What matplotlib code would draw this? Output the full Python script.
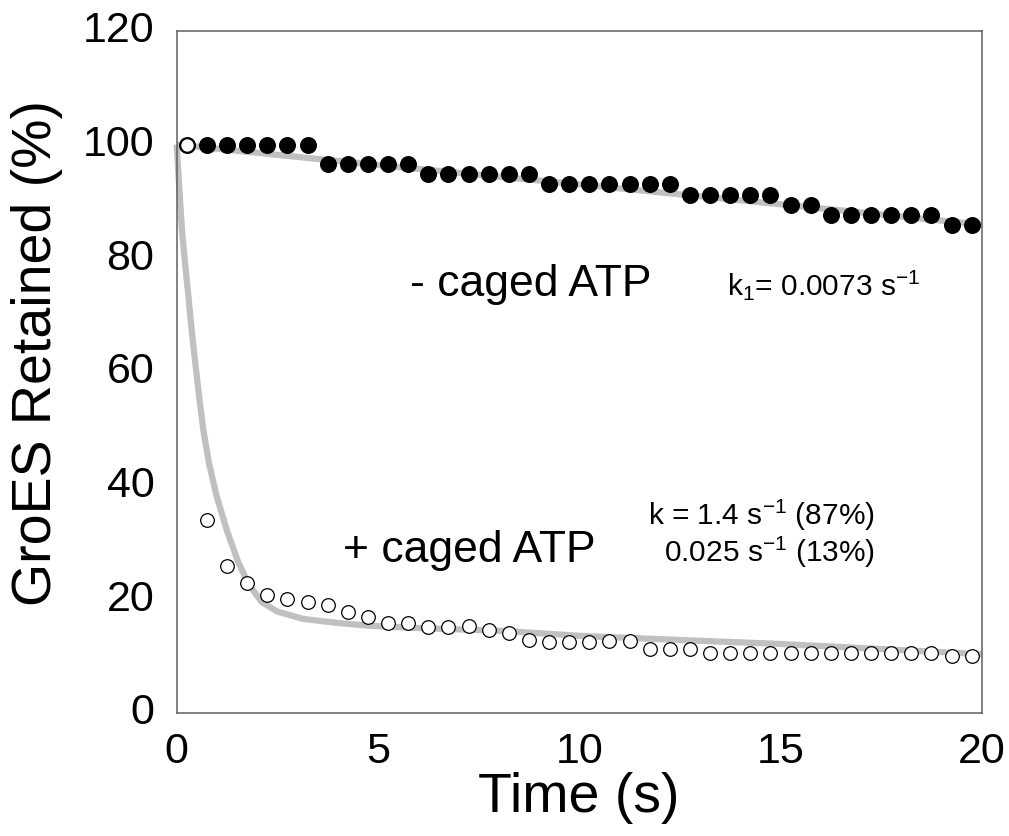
import matplotlib
matplotlib.use("Agg")
import matplotlib.pyplot as plt
from matplotlib.transforms import ScaledTranslation

# sampling times (s)
time_pts = [0.25, 0.75, 1.25, 1.75, 2.25, 2.75, 3.25, 3.75, 4.25, 4.75,
            5.25, 5.75, 6.25, 6.75, 7.25, 7.75, 8.25, 8.75, 9.25, 9.75,
            10.25, 10.75, 11.25, 11.75, 12.25, 12.75, 13.25, 13.75, 14.25, 14.75,
            15.25, 15.75, 16.25, 16.75, 17.25, 17.75, 18.25, 18.75, 19.25, 19.75]

# - caged ATP (filled circles)
minus_atp = [100, 100, 100, 100, 100, 100, 100, 96.6, 96.6, 96.6,
             96.6, 96.6, 94.8, 94.8, 94.8, 94.8, 94.8, 94.8, 93.0, 93.0,
             93.0, 93.0, 93.0, 93.0, 93.0, 91.1, 91.1, 91.1, 91.1, 91.1,
             89.3, 89.3, 87.6, 87.6, 87.6, 87.6, 87.6, 87.6, 85.9, 85.9]

# + caged ATP (open circles)
plus_atp = [100, 34.0, 25.8, 22.9, 20.7, 20.1, 19.4, 19.0, 17.8, 16.8,
            15.8, 15.8, 15.1, 15.1, 15.3, 14.6, 14.0, 12.8, 12.4, 12.4,
            12.5, 12.7, 12.7, 11.3, 11.3, 11.3, 10.5, 10.5, 10.5, 10.5,
            10.5, 10.5, 10.5, 10.5, 10.5, 10.5, 10.5, 10.5, 10.0, 10.0]

# fitted curves
fit_minus_t = [0, 5, 10, 15, 20]
fit_minus_y = [100, 96.4, 93.0, 89.5, 85.9]
fit_plus_t = [0, 0.05, 0.13, 0.21, 0.29, 0.37, 0.46, 0.56, 0.66, 0.8, 0.99,
              1.25, 1.53, 1.8, 2.11, 2.5, 3.15, 4, 4.8, 6, 8.1, 10.1, 12.5,
              15, 17.5, 20]
fit_plus_y = [100, 94, 85.1, 79, 73.4, 67.5, 61.7, 55.5, 49.9, 44, 38.2,
              32, 26.5, 22.5, 19.5, 17.8, 16.5, 15.8, 15.3, 14.9, 14.4, 13.5,
              12.8, 12.1, 11.2, 10.3]

x_ticks = [0, 5, 10, 15, 20]
y_ticks = [0, 20, 40, 60, 80, 100, 120]

plt.rcParams['font.family'] = ['Liberation Sans', 'DejaVu Sans']
plt.rcParams['mathtext.default'] = 'regular'


def main():
    fig = plt.figure(figsize=(10.09, 8.37), dpi=100)
    ax = fig.add_axes([0.1751, 0.1473, 0.7979, 0.8145])

    fit_color = '#c0c0c0'
    ax.plot(fit_minus_t, fit_minus_y, color=fit_color, lw=4.5,
            solid_capstyle='butt', solid_joinstyle='round', zorder=1,
            clip_on=False)
    ax.plot(fit_plus_t, fit_plus_y, color=fit_color, lw=4.5,
            solid_capstyle='butt', solid_joinstyle='round', zorder=1,
            clip_on=False)

    ax.plot(time_pts, minus_atp, 'o', color='black', ms=11.2, zorder=3,
            clip_on=False)
    ax.plot(time_pts, plus_atp, 'o', mfc='white', mec='black', mew=0.9,
            ms=9.8, zorder=4, clip_on=False)

    ax.set_xlim(0, 20)
    ax.set_ylim(0, 120)
    ax.set_xticks(x_ticks)
    ax.set_yticks(y_ticks)
    ax.tick_params(length=0, labelsize=31)
    ax.tick_params(axis='x', pad=13)
    ax.tick_params(axis='y', pad=16)
    # y tick labels sit a little above their values in the original
    shift = ScaledTranslation(0, 0.05, fig.dpi_scale_trans)
    for lab in ax.get_yticklabels():
        lab.set_transform(lab.get_transform() + shift)
    for sp in ax.spines.values():
        sp.set_color('#606060')
        sp.set_linewidth(1.1)

    ax.set_xlabel('Time (s)', fontsize=40, labelpad=0)
    ax.set_ylabel('GroES Retained (%)', fontsize=40)
    ax.yaxis.set_label_coords(-0.141, 0.529)

    ax.text(5.8, 73.5, '- caged ATP', fontsize=32)
    ax.text(4.13, 26.7, '+ caged ATP', fontsize=32)
    ax.text(13.66, 73.6, 'k$_1$= 0.0073 s$^{-1}$', fontsize=21.5)
    ax.text(17.35, 33.2, 'k = 1.4 s$^{-1}$ (87%)', fontsize=21.5, ha='right')
    ax.text(17.35, 26.7, '0.025 s$^{-1}$ (13%)', fontsize=21.5, ha='right')

    fig.savefig('out.png', dpi=100)


if __name__ == "__main__":
    main()
